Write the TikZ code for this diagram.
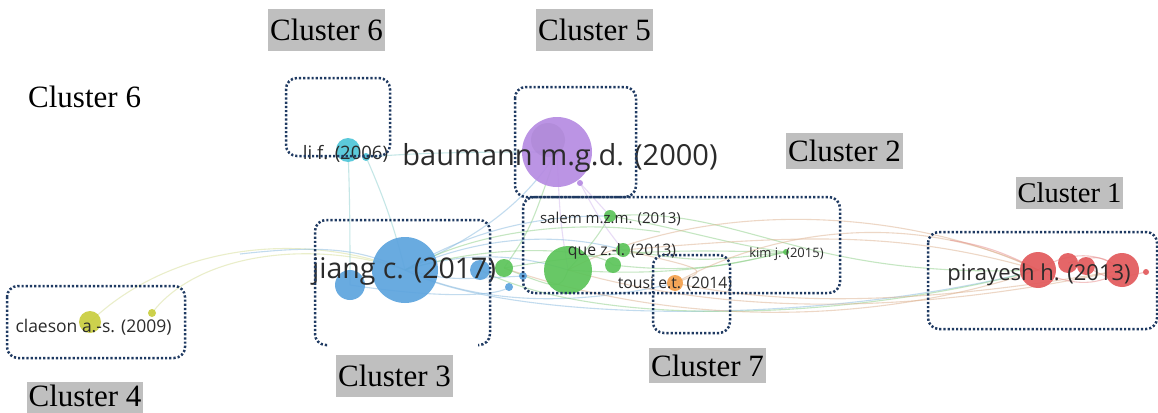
\documentclass[tikz,border=0pt]{standalone}
\usepackage{fontspec}
\setmainfont{Liberation Serif}
\newfontfamily\labfont{Open Sans}
\pgfdeclarelayer{paper}
\pgfdeclarelayer{edges}
\pgfsetlayers{paper,edges,main}
\definecolor{boxnavy}{HTML}{1F3A62}
\definecolor{taggray}{HTML}{BFBFBF}
\definecolor{labtext}{HTML}{2B2B2B}
\definecolor{cRed}{HTML}{E25A5C}
\definecolor{cGreen}{HTML}{5CC45A}
\definecolor{cBlue}{HTML}{5DA4DE}
\definecolor{cYellow}{HTML}{C9CE3E}
\definecolor{cPurple}{HTML}{B68BE2}
\definecolor{cCyan}{HTML}{4FC6D8}
\definecolor{cOrange}{HTML}{F4A04C}
\definecolor{eBlue}{HTML}{86B9DF}
\definecolor{eGreen}{HTML}{8CCF86}
\definecolor{eTan}{HTML}{DDB08E}
\definecolor{eYellow}{HTML}{D6DE96}
\definecolor{eTeal}{HTML}{8CCFCF}
\definecolor{eRed}{HTML}{E88C8C}
\tikzset{
  bub/.style={circle,inner sep=0pt,minimum size=#1,fill opacity=0.92},
  dotbox/.style={draw=boxnavy,line width=2.5pt,dash pattern=on 2.2pt off 2.0pt,rounded corners=11pt},
  tag/.style={fill=taggray,inner sep=0pt,minimum width=117pt,minimum height=42pt,
    font=\fontsize{31}{31}\selectfont},
  plaintag/.style={inner sep=0pt,font=\fontsize{31}{31}\selectfont},
  lab/.style={anchor=base,inner sep=0pt,text=labtext,font=\labfont\fontsize{#1}{#1}\selectfont},
  edge/.style={line width=1.1pt,draw opacity=0.5},
}
\begin{document}
\begin{tikzpicture}[x=1pt,y=-1pt]
\useasboundingbox (0,0) rectangle (1158,412);
\begin{pgfonlayer}{paper}
  \fill[white] (0,0) rectangle (1158,412);
\end{pgfonlayer}
\begin{scope}
\clip (0,0) rectangle (1158,412);

% ---- publication bubbles ----
\node[bub=70pt,fill=cPurple] (baumann) at (557,152) {};
\node[bub=34pt,fill=cPurple!85!black,fill opacity=0.25] (baumannB) at (548,140) {};
\node[bub=6pt,fill=cPurple] (baumannC) at (580,183) {};

\node[bub=24pt,fill=cCyan] (lif) at (348,150) {};
\node[bub=8pt,fill=cCyan] (lifB) at (366,157) {};

\node[bub=66pt,fill=cBlue] (jiang) at (405,270) {};
\node[bub=30pt,fill=cBlue] (jiangB) at (350,285) {};
\node[bub=20pt,fill=cBlue] (jiangC) at (480,270) {};
\node[bub=8pt,fill=cBlue] (jiangD) at (523,276) {};
\node[bub=8pt,fill=cBlue] (jiangE) at (509,287) {};

\node[bub=18pt,fill=cGreen] (gA) at (504,268) {};
\node[bub=48pt,fill=cGreen] (gBig) at (568,270) {};
\node[bub=16pt,fill=cGreen] (gC) at (613,265) {};
\node[bub=14pt,fill=cGreen] (que) at (623,250) {};
\node[bub=12pt,fill=cGreen] (salem) at (610,216) {};
\node[bub=6pt,fill=cGreen] (kim) at (786,252) {};

\node[bub=16pt,fill=cOrange] (tousi) at (675,283) {};

\node[bub=36pt,fill=cRed] (pir) at (1038,270) {};
\node[bub=20pt,fill=cRed] (pirB) at (1068,263) {};
\node[bub=18pt,fill=cRed] (pirC) at (1086,266) {};
\node[bub=34pt,fill=cRed] (pirD) at (1122,270) {};
\node[bub=6pt,fill=cRed] (pirE) at (1146,272) {};

\node[bub=22pt,fill=cYellow] (claeson) at (90,322) {};
\node[bub=8pt,fill=cYellow] (claesonB) at (152,313) {};

% ---- citation links ----
\begin{pgfonlayer}{edges}
  % cluster 4 to cluster 3
  \draw[edge,eYellow] (claeson.center) .. controls (170,245) and (300,230) .. (jiang.center);
  \draw[edge,eYellow] (claesonB.center) .. controls (200,250) and (320,240) .. (jiang.center);
  \draw[edge,eBlue] (jiang.center) .. controls (360,248) and (320,245) .. (240,254);
  % cluster 6
  \draw[edge,eTeal] (lifB.center) .. controls (385,200) and (395,230) .. (jiang.center);
  \draw[edge,eTeal] (lif.center) .. controls (350,200) and (350,240) .. (jiangB.center);
  \draw[edge,eTeal] (lifB.center) .. controls (430,152) and (480,152) .. (baumann.center);
  % cluster 5
  \draw[edge,cPurple!60] (baumannC.center) .. controls (595,200) .. (salem.center);
  \draw[edge,cPurple!60] (baumann.center) .. controls (560,220) .. (gBig.center);
  \draw[edge,cPurple!60] (baumannC.center) .. controls (600,220) .. (que.center);
  \draw[edge,eBlue] (baumann.center) .. controls (520,210) and (470,240) .. (jiang.center);
  \draw[edge,eGreen] (baumann.center) .. controls (530,230) .. (gA.center);
  % cluster 3 to cluster 2
  \draw[edge,eBlue] (jiang.center) .. controls (470,230) and (540,215) .. (salem.center);
  \draw[edge,eBlue] (jiang.center) .. controls (480,235) and (560,232) .. (que.center);
  \draw[edge,eBlue] (jiang.center) .. controls (470,250) and (520,255) .. (gBig.center);
  \draw[edge,eGreen] (jiang.center) .. controls (480,228) and (580,220) .. (660,232);
  \draw[edge,eGreen] (jiang.center) .. controls (500,240) and (600,250) .. (gC.center);
  \draw[edge,eBlue] (jiang.center) .. controls (470,300) and (560,310) .. (tousi.center);
  \draw[edge,eBlue] (jiang.center) .. controls (500,320) and (800,330) .. (pir.center);
  \draw[edge,eGreen] (jiangC.center) .. controls (600,330) and (850,320) .. (pir.center);
  \draw[edge,eBlue] (jiangB.center) .. controls (450,300) and (500,295) .. (jiangE.center);
  \draw[edge,eBlue] (jiang.center) .. controls (450,280) .. (jiangD.center);
  % cluster 2 internal
  \draw[edge,eGreen] (gBig.center) .. controls (595,240) .. (salem.center);
  \draw[edge,eGreen] (salem.center) .. controls (680,228) and (730,245) .. (kim.center);
  \draw[edge,eGreen] (que.center) .. controls (700,262) .. (kim.center);
  \draw[edge,eGreen] (gBig.center) .. controls (680,278) and (740,262) .. (kim.center);
  \draw[edge,eGreen] (gA.center) .. controls (640,245) and (720,252) .. (kim.center);
  \draw[edge,eGreen] (gC.center) .. controls (700,275) and (740,262) .. (kim.center);
  \draw[edge,eGreen] (salem.center) .. controls (740,205) and (800,280) .. (pir.center);
  \draw[edge,eGreen] (gA.center) .. controls (560,290) .. (gBig.center);
  % links towards cluster 1
  \draw[edge,eTan] (gBig.center) .. controls (700,200) and (900,205) .. (pir.center);
  \draw[edge,eTan] (tousi.center) .. controls (780,225) and (920,212) .. (pir.center);
  \draw[edge,eTan] (gA.center) .. controls (700,335) and (900,318) .. (pir.center);
  \draw[edge,eTan] (gBig.center) .. controls (760,325) and (960,305) .. (pirD.center);
  \draw[edge,eTan] (tousi.center) .. controls (800,310) and (950,300) .. (pirD.center);
  \draw[edge,eTan] (que.center) .. controls (800,235) and (900,230) .. (pir.center);
  \draw[edge,eTan] (tousi.center) .. controls (710,270) .. (que.center);
  % cluster 1 internal
  \draw[edge,eRed] (pir.center) .. controls (1070,250) and (1100,252) .. (pirD.center);
  \draw[edge,eRed] (pir.center) .. controls (1075,288) and (1100,285) .. (pirD.center);
  \draw[edge,eRed] (pirB.center) .. controls (1100,255) .. (pirD.center);
  \draw[edge,eRed] (pirC.center) .. controls (1110,280) .. (pirE.center);
  \draw[edge,eRed] (pir.center) .. controls (1000,250) and (980,245) .. (950,240);
\end{pgfonlayer}

% ---- labels ----
\node[lab=29] (tBaumann) at (560,165) {baumann m.g.d. (2000)};
\node[lab=28.5] (tJiang) at (404,278) {jiang c. (2017)};
\node[lab=22] (tPir) at (1039,280) {pirayesh h. (2013)};
\node[lab=17.5] (tClaeson) at (93.5,332) {claeson a.-s. (2009)};
\node[lab=18.5] (tLi) at (345.5,159) {li f. (2006)};
\node[lab=15] (tSalem) at (610.5,223) {salem m.z.m. (2013)};
\node[lab=15.8] (tQue) at (622,255) {que z.-l. (2013)};
\node[lab=15.8] (tTousi) at (675,288) {tousi e.t. (2014)};
\node[lab=13] (tKim) at (786.5,257) {kim j. (2015)};

% ---- cluster outlines ----
\draw[dotbox] (286,78) rectangle (390,156);
\draw[dotbox] (515,87) rectangle (636,197);
\draw[dotbox] (523,197) rectangle (840,293);
\draw[dotbox] (653,255) rectangle (730,333);
\draw[dotbox] (928,232) rectangle (1157,329);
\draw[dotbox] (7,286) rectangle (185,358);
\draw[dotbox] (327,345) -- (315,345) -- (315,220) -- (490,220) -- (490,345) -- (478,345);

% ---- cluster names ----
\node[tag] (k6a) at (326.5,30) {Cluster 6};
\node[tag] (k5) at (594.5,30) {Cluster 5};
\node[tag,minimum height=36pt] (k2) at (844.5,151) {Cluster 2};
\node[tag,minimum width=107pt,minimum height=32pt,font=\fontsize{28.5}{28.5}\selectfont] (k1) at (1069.5,193) {Cluster 1};
\fill[taggray] (27,382) rectangle (143,424);
\node[plaintag,anchor=base] (k4) at (85,406) {Cluster 4};
\node[tag] (k3) at (394.5,376) {Cluster 3};
\node[tag,minimum height=35pt] (k7) at (707.5,365.5) {Cluster 7};
\node[plaintag,anchor=base west] (k6b) at (28,107) {Cluster 6};
\end{scope}
\end{tikzpicture}
\end{document}
